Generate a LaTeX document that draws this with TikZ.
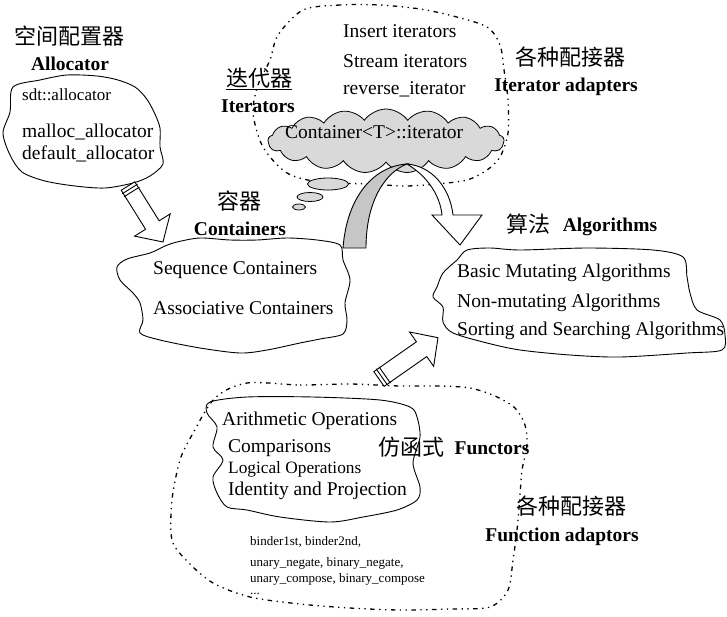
\documentclass[tikz,border=0pt]{standalone}
\usepackage{fontspec}
\setmainfont{Liberation Serif}
\newfontfamily\cjk{Noto Sans CJK SC}
\usetikzlibrary{shapes.symbols,shapes.geometric}

\begin{document}
\begin{tikzpicture}[x=1pt, y=-1pt,
  every node/.style={inner sep=0pt},
  entry/.style={anchor=west, font=\fontsize{19.5}{22}\selectfont},
  smallentry/.style={anchor=west, font=\fontsize{13}{15}\selectfont},
  heading/.style={font=\fontsize{19.5}{22}\selectfont\bfseries},
  cntitle/.style={font=\cjk\fontsize{22}{24}\selectfont},
  blob/.style={draw, line width=0.9pt},
  region/.style={draw, line width=1.3pt, dash pattern=on 1.3pt off 4.5pt on 1.3pt off 4.5pt on 4.5pt off 4.5pt},
  bubble/.style={draw, fill=gray!30, line width=0.8pt},
  blockarrow/.style={draw, fill=white, line width=0.9pt, line join=miter}]

\useasboundingbox (0,0) rectangle (727,616);

% dotted regions (adaptors)
\draw[region] plot[smooth cycle, tension=0.5] coordinates {(303,10) (340,5) (380,5) (420,9) (453,16) (487,27) (500,45) (504,70) (508,100) (508,133) (500,157) (487,170) (467,180) (437,184) (405,186) (370,184) (320,182) (287,173) (263,147) (253,113) (258,85) (270,60) (278,35)};
\draw[region] plot[smooth cycle, tension=0.5] coordinates {(247,383) (300,385) (350,384) (400,386) (440,386) (470,388) (495,396) (515,408) (525,425) (527,445) (522,470) (520,495) (517,530) (513,560) (508,590) (490,607) (450,609) (400,610) (350,608) (300,604) (250,597) (213,583) (188,562) (172,540) (172,500) (180,460) (192,435) (215,398)};

% blobs
\draw[blob] plot[smooth cycle, tension=0.5] coordinates {(13,87) (40,80) (67,75) (97,76) (118,80) (135,87) (146,98) (154,112) (160,128) (160,147) (163,164) (150,176) (133,183) (105,188) (75,186) (45,181) (22,172) (10,155) (3,133) (10,112)};
\draw[blob] plot[smooth cycle, tension=0.5] coordinates {(177,242) (200,238) (230,240) (257,240) (287,238) (317,240) (340,245) (343,260) (350,280) (345,303) (347,320) (343,334) (320,339) (300,343) (267,350) (240,353) (200,348) (160,340) (140,333) (143,320) (140,303) (133,293) (120,280) (117,267) (127,259) (150,253) (165,246)};
\draw[blob] plot[smooth cycle, tension=0.5] coordinates {(467,250) (490,248) (520,250) (587,248) (653,250) (683,257) (687,277) (690,293) (697,310) (720,320) (725,335) (722,350) (687,353) (620,357) (570,355) (520,350) (487,343) (453,333) (443,322) (443,307) (433,297) (437,287) (443,273) (457,260)};
\draw[blob] plot[smooth cycle, tension=0.5] coordinates {(210,402) (247,397) (313,397) (380,400) (410,407) (417,417) (420,437) (413,463) (420,487) (417,500) (397,510) (363,517) (330,522) (280,517) (247,510) (227,507) (217,493) (213,477) (223,460) (213,447) (217,427) (207,413)};

% iterator cloud
\node[bubble, cloud, cloud puffs=17, cloud puff arc=110, aspect=3.6, minimum width=236pt, minimum height=64pt] (itcloud) at (386,141) {};
\node[bubble, ellipse, minimum width=41pt, minimum height=12pt] (bubblea) at (328,184) {};
\node[bubble, ellipse, minimum width=26pt, minimum height=9pt] (bubbleb) at (310,197) {};
\node[bubble, ellipse, minimum width=13pt, minimum height=6pt] (bubblec) at (299,207) {};

% curved arrow iterators -> algorithms
\draw[blob, fill=gray!45] (343,248) .. controls (347,195) and (375,166) .. (407,164) .. controls (386,172) and (366,200) .. (366,248) -- cycle;
\draw[blockarrow] (407,164) .. controls (432,166) and (450,188) .. (453,215) -- (482,215) -- (460,245) -- (432,215) -- (442,215) .. controls (440,195) and (427,176) .. (407,164) -- cycle;

% allocator -> containers
\begin{scope}[shift={(128,186)}, rotate=-58]
  \draw[blockarrow] (0,-8) -- (46,-8) -- (46,-21) -- (66,0) -- (46,21) -- (46,8) -- (0,8) -- cycle;
  \draw[line width=0.9pt] (3.5,-9) -- (3.5,9) (7,-9) -- (7,9);
\end{scope}
% functors -> algorithms
\begin{scope}[shift={(379,379)}, rotate=35]
  \draw[blockarrow] (0,-9) -- (52,-9) -- (52,-21) -- (72,0) -- (52,21) -- (52,9) -- (0,9) -- cycle;
  \draw[line width=0.9pt] (3.5,-10) -- (3.5,10) (7,-10) -- (7,10);
\end{scope}

% allocator
\node[cntitle] (cnalloc) at (69,36) {空间配置器};
\node[heading] (alloc) at (70,64) {Allocator};
\node[entry, font=\fontsize{17}{20}\selectfont] (sdtalloc) at (22,95) {sdt::allocator};
\node[entry] (mallocalloc) at (22,132) {malloc\_allocator};
\node[entry] (defaultalloc) at (22,154) {default\_allocator};

% iterators
\node[cntitle] (cniter) at (259,79) {\underline{迭代器}};
\node[heading] (iter) at (258,106) {Iterators};
\node[entry] (insertit) at (343,31) {Insert iterators};
\node[entry] (streamit) at (343,61) {Stream iterators};
\node[entry] (reverseit) at (343,89) {reverse\_iterator};
\node[cntitle] (cnitadapt) at (570,57) {各种配接器};
\node[heading] (itadapt) at (566,87) {Iterator adapters};
\node[entry] (contit) at (285,132) {Container<T>::iterator};

% containers
\node[cntitle] (cncont) at (239,201) {容器};
\node[heading] (cont) at (240,229) {Containers};
\node[entry] (seqcont) at (153,270) {Sequence Containers};
\node[entry] (assoccont) at (153,308) {Associative Containers};

% algorithms
\node[cntitle] (cnalgo) at (528,224) {算法};
\node[heading] (algo) at (610,227) {Algorithms};
\node[entry] (basicalgo) at (457,273) {Basic Mutating Algorithms};
\node[entry] (nonmutalgo) at (457,303) {Non-mutating Algorithms};
\node[entry] (sortalgo) at (457,331) {Sorting and Searching Algorithms};

% functors
\node[entry] (arith) at (222,421) {Arithmetic Operations};
\node[entry] (compar) at (228,448) {Comparisons};
\node[entry, font=\fontsize{17.3}{20}\selectfont] (logical) at (228,469) {Logical Operations};
\node[entry] (identity) at (228,491) {Identity and Projection};
\node[cntitle] (cnfunctor) at (411,447) {仿函式};
\node[heading] (functor) at (492,448) {Functors};
\node[cntitle] (cnfnadapt) at (571,506) {各种配接器};
\node[heading] (fnadapt) at (562,537) {Function adaptors};
\node[smallentry] (binder) at (250,542) {binder1st, binder2nd,};
\node[smallentry] (negate) at (250,563) {unary\_negate, binary\_negate,};
\node[smallentry] (compose) at (250,579) {unary\_compose, binary\_compose};
\node[smallentry] (etc) at (250,594) {...};
\end{tikzpicture}
\end{document}
